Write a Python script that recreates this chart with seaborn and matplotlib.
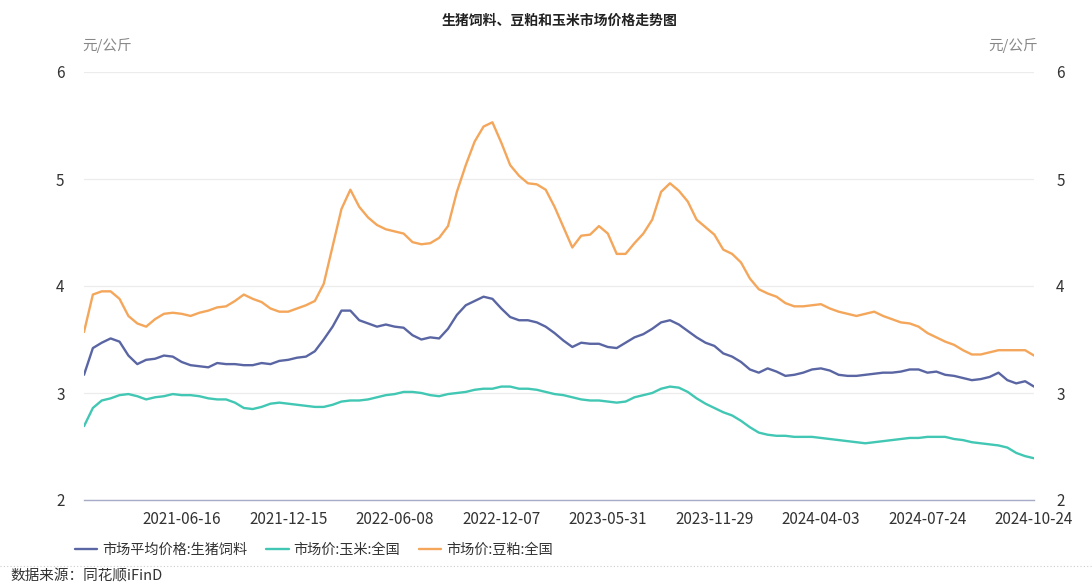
import numpy as np
import pandas as pd
import matplotlib
matplotlib.use("Agg")
import matplotlib.pyplot as plt
from matplotlib.lines import Line2D
import seaborn as sns

title = "生猪饲料、豆粕和玉米市场价格走势图"
unit = "元/公斤"
source = "数据来源：同花顺iFinD"
series_names = ["市场平均价格:生猪饲料", "市场价:玉米:全国", "市场价:豆粕:全国"]
tick_labels = ["2021-06-16", "2021-12-15", "2022-06-08", "2022-12-07", "2023-05-31",
               "2023-11-29", "2024-04-03", "2024-07-24", "2024-10-24"]
tick_index = [11, 23, 35, 47, 59, 71, 83, 95, 107]
y_ticks = [2, 3, 4, 5, 6]

feed = [3.17, 3.42, 3.47, 3.51, 3.48, 3.35, 3.27, 3.31, 3.32, 3.35,
        3.34, 3.29, 3.26, 3.25, 3.24, 3.28, 3.27, 3.27, 3.26, 3.26,
        3.28, 3.27, 3.30, 3.31, 3.33, 3.34, 3.39, 3.50, 3.62, 3.77,
        3.77, 3.68, 3.65, 3.62, 3.64, 3.62, 3.61, 3.54, 3.50, 3.52,
        3.51, 3.60, 3.73, 3.82, 3.86, 3.90, 3.88, 3.79, 3.71, 3.68,
        3.68, 3.66, 3.62, 3.56, 3.49, 3.43, 3.47, 3.46, 3.46, 3.43,
        3.42, 3.47, 3.52, 3.55, 3.60, 3.66, 3.68, 3.64, 3.58, 3.52,
        3.47, 3.44, 3.37, 3.34, 3.29, 3.22, 3.19, 3.23, 3.20, 3.16,
        3.17, 3.19, 3.22, 3.23, 3.21, 3.17, 3.16, 3.16, 3.17, 3.18,
        3.19, 3.19, 3.20, 3.22, 3.22, 3.19, 3.20, 3.17, 3.16, 3.14,
        3.12, 3.13, 3.15, 3.19, 3.12, 3.09, 3.11, 3.06]

corn = [2.69, 2.86, 2.93, 2.95, 2.98, 2.99, 2.97, 2.94, 2.96, 2.97,
        2.99, 2.98, 2.98, 2.97, 2.95, 2.94, 2.94, 2.91, 2.86, 2.85,
        2.87, 2.90, 2.91, 2.90, 2.89, 2.88, 2.87, 2.87, 2.89, 2.92,
        2.93, 2.93, 2.94, 2.96, 2.98, 2.99, 3.01, 3.01, 3.00, 2.98,
        2.97, 2.99, 3.00, 3.01, 3.03, 3.04, 3.04, 3.06, 3.06, 3.04,
        3.04, 3.03, 3.01, 2.99, 2.98, 2.96, 2.94, 2.93, 2.93, 2.92,
        2.91, 2.92, 2.96, 2.98, 3.00, 3.04, 3.06, 3.05, 3.01, 2.95,
        2.90, 2.86, 2.82, 2.79, 2.74, 2.68, 2.63, 2.61, 2.60, 2.60,
        2.59, 2.59, 2.59, 2.58, 2.57, 2.56, 2.55, 2.54, 2.53, 2.54,
        2.55, 2.56, 2.57, 2.58, 2.58, 2.59, 2.59, 2.59, 2.57, 2.56,
        2.54, 2.53, 2.52, 2.51, 2.49, 2.44, 2.41, 2.39]

soy = [3.57, 3.92, 3.95, 3.95, 3.88, 3.72, 3.65, 3.62, 3.69, 3.74,
       3.75, 3.74, 3.72, 3.75, 3.77, 3.80, 3.81, 3.86, 3.92, 3.88,
       3.85, 3.79, 3.76, 3.76, 3.79, 3.82, 3.86, 4.02, 4.37, 4.72,
       4.90, 4.74, 4.64, 4.57, 4.53, 4.51, 4.49, 4.41, 4.39, 4.40,
       4.45, 4.56, 4.88, 5.13, 5.35, 5.49, 5.53, 5.34, 5.13, 5.03,
       4.96, 4.95, 4.90, 4.74, 4.55, 4.36, 4.47, 4.48, 4.56, 4.49,
       4.30, 4.30, 4.40, 4.49, 4.62, 4.88, 4.96, 4.89, 4.79, 4.62,
       4.55, 4.48, 4.34, 4.30, 4.22, 4.07, 3.97, 3.93, 3.90, 3.84,
       3.81, 3.81, 3.82, 3.83, 3.79, 3.76, 3.74, 3.72, 3.74, 3.76,
       3.72, 3.69, 3.66, 3.65, 3.62, 3.56, 3.52, 3.48, 3.45, 3.40,
       3.36, 3.36, 3.38, 3.40, 3.40, 3.40, 3.40, 3.35]

colors = ["#5a66a3", "#41c7b3", "#f4a65b"]

sns.set_theme(style="white")
plt.rcParams['font.family'] = ['Noto Sans CJK SC', 'DejaVu Sans']

n = len(feed)
df = pd.concat([
    pd.DataFrame({"idx": np.arange(n), "value": vals, "series": name})
    for name, vals in zip(series_names, [feed, corn, soy])
], ignore_index=True)

fig = plt.figure(figsize=(10.92, 5.85), dpi=100)
ax = fig.add_axes([84 / 1092, 1 - 500 / 585, 950 / 1092, 428 / 585])

sns.lineplot(data=df, x="idx", y="value", hue="series", hue_order=series_names,
             palette=colors, linewidth=1.7, ax=ax, legend=True)

ax.set_xlim(0, n - 1)
ax.set_ylim(2, 6)
ax.set_yticks(y_ticks)
ax.set_yticklabels([str(t) for t in y_ticks])
ax.set_xticks(tick_index)
ax.set_xticklabels(tick_labels)
ax.set_xlabel("")
ax.set_ylabel("")
ax.yaxis.grid(True, color="#ececec", linewidth=0.9)
ax.xaxis.grid(False)
for s in ["top", "right", "left"]:
    ax.spines[s].set_visible(False)
ax.spines["bottom"].set_color("#a6acc8")
ax.spines["bottom"].set_linewidth(1.0)
ax.tick_params(axis="both", length=0, labelsize=11, colors="#333333")
ax.tick_params(axis="y", pad=14)
ax.tick_params(axis="x", pad=8)

ax2 = ax.twinx()
ax2.set_ylim(2, 6)
ax2.set_yticks(y_ticks)
ax2.set_yticklabels([str(t) for t in y_ticks])
ax2.tick_params(axis="y", length=0, labelsize=11, colors="#333333", pad=16)
for s in ax2.spines.values():
    s.set_visible(False)
ax2.grid(False)

handles, labels = ax.get_legend_handles_labels()
ax.get_legend().remove()
fig.legend(handles, labels, loc="center left", bbox_to_anchor=(62 / 1092, 1 - 550 / 585),
           ncol=3, frameon=False, fontsize=10.2, handlelength=1.6,
           columnspacing=1.3, handletextpad=0.35, labelcolor="#333333")

fig.text(560 / 1092, 1 - 21 / 585, title, ha="center", va="center",
         fontsize=10, fontweight="bold", color="#222222")
fig.text(107 / 1092, 1 - 45 / 585, unit, ha="center", va="center",
         fontsize=10.5, color="#888888")
fig.text(1013 / 1092, 1 - 45 / 585, unit, ha="center", va="center",
         fontsize=10.5, color="#888888")
fig.add_artist(Line2D([0, 1], [1 - 566 / 585] * 2, transform=fig.transFigure,
                      linestyle=(0, (1, 2)), color="#cccccc", linewidth=0.8))
fig.text(10 / 1092, 1 - 577 / 585, source, ha="left", va="center",
         fontsize=10.5, color="#333333")

fig.savefig("out.png", dpi=100, facecolor="white")
